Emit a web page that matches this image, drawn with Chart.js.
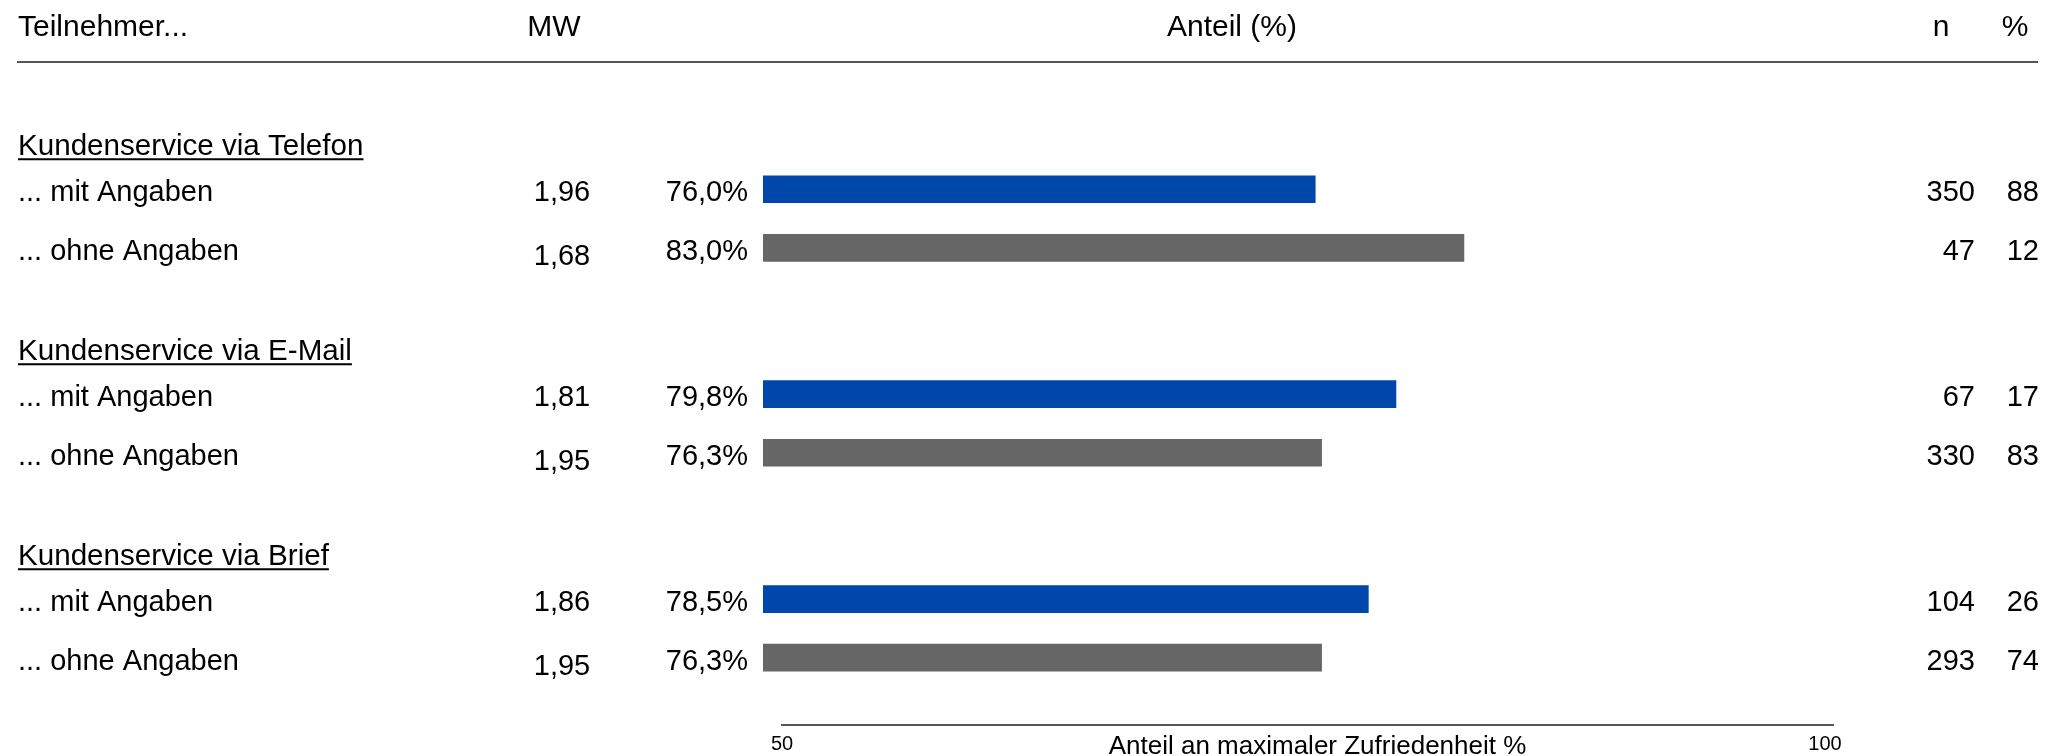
<!DOCTYPE html>
<html>
<head>
<meta charset="utf-8">
<script src="https://cdn.jsdelivr.net/npm/chart.js@4.4.1/dist/chart.umd.min.js"></script>
<style>
    body { margin: 0; background: #fff; }
    #wrap { width: 2062px; height: 756px; position: relative; }
</style>
</head>
<body>
<div id="wrap"><canvas id="chart"></canvas></div>
<script>
// data
var groups = ['Kundenservice via Telefon', 'Kundenservice via E-Mail', 'Kundenservice via Brief'];
var rowLabels = ['... mit Angaben', '... ohne Angaben'];
var mwValues = [1.96, 1.68, 1.81, 1.95, 1.86, 1.95];
var shareValues = [76.0, 83.0, 79.8, 76.3, 78.5, 76.3];
var nValues = [350, 47, 67, 330, 104, 293];
var pctValues = [88, 12, 17, 83, 26, 74];
var axisTicks = [50, 100];
var axisTitle = 'Anteil an maximaler Zufriedenheit %';
var headers = ['Teilnehmer...', 'MW', 'Anteil (%)', 'n', '%'];

var BLUE = '#0047ab';
var GRAY = '#666666';
var FONT = '"Liberation Sans", Arial, sans-serif';

// row slots on the y scale: group g, row j
function rowPos(g, j) {
    return 1 + g * 7 + j * 2;
}

function comma(v, d) {
    return v.toFixed(d).replace('.', ',');
}

// one dataset per row type (mit / ohne)
var datasets = rowLabels.map(function(label, j) {
    return {
        label: label,
        data: groups.map(function(g, gi) {
            return {x: shareValues[gi * 2 + j], y: rowPos(gi, j)};
        }),
        backgroundColor: j == 0 ? BLUE : GRAY,
        barThickness: 27,
        borderWidth: 0
    };
});

var tablePlugin = {
    id: 'table',
    afterDraw: function(chart) {
        var ctx = chart.ctx;
        var xs = chart.scales.x;
        var ys = chart.scales.y;
        ctx.save();
        ctx.fillStyle = '#000';
        ctx.font = '30px ' + FONT;
        ctx.textBaseline = 'alphabetic';

        // header row
        ctx.textAlign = 'left';
        ctx.fillText(headers[0], 18, 36);
        ctx.textAlign = 'center';
        ctx.fillText(headers[1], 554, 36);
        ctx.fillText(headers[2], 1232, 36);
        ctx.fillText(headers[3], 1941, 36);
        ctx.fillText(headers[4], 2015, 36);

        ctx.strokeStyle = '#555';
        ctx.lineWidth = 2;
        ctx.beginPath();
        ctx.moveTo(17, 62);
        ctx.lineTo(2038, 62);
        ctx.stroke();

        for (var g = 0; g < groups.length; g++) {
            // group title, underlined
            var ty = ys.getPixelForValue(rowPos(g, 0) - 1.5) + 10;
            ctx.font = '29.6px ' + FONT;
            ctx.textAlign = 'left';
            ctx.fillText(groups[g], 18, ty);
            var w = ctx.measureText(groups[g]).width;
            ctx.strokeStyle = '#000';
            ctx.lineWidth = 2;
            ctx.beginPath();
            ctx.moveTo(18, ty + 4);
            ctx.lineTo(18 + w, ty + 4);
            ctx.stroke();

            ctx.font = '29px ' + FONT;
            for (var j = 0; j < rowLabels.length; j++) {
                var i = g * 2 + j;
                var y = ys.getPixelForValue(rowPos(g, j)) + 12;
                ctx.textAlign = 'left';
                ctx.fillText(rowLabels[j], 18, y);
                ctx.textAlign = 'center';
                ctx.fillText(comma(mwValues[i], 2), 562, y + (j == 1 ? 5 : 0));
                ctx.textAlign = 'right';
                ctx.fillText(comma(shareValues[i], 1) + '%', xs.getPixelForValue(50) - 15, y);
                ctx.fillText(String(nValues[i]), 1975, y);
                ctx.fillText(String(pctValues[i]), 2039, y);
            }
        }

        // bottom axis
        var ax0 = 781, ax1 = 1834;
        ctx.strokeStyle = '#555';
        ctx.lineWidth = 2;
        ctx.beginPath();
        ctx.moveTo(ax0, 725);
        ctx.lineTo(ax1, 725);
        ctx.stroke();
        ctx.font = '20px ' + FONT;
        ctx.textAlign = 'center';
        ctx.fillText(String(axisTicks[0]), 782, 750);
        ctx.fillText(String(axisTicks[1]), xs.getPixelForValue(axisTicks[1]), 750);
        ctx.font = '26px ' + FONT;
        ctx.fillText(axisTitle, (ax0 + ax1) / 2 + 10, 754);
        ctx.restore();
    }
};

var chart = new Chart(document.getElementById('chart'), {
    type: 'bar',
    data: {datasets: datasets},
    options: {
        indexAxis: 'y',
        grouped: false,
        responsive: true,
        maintainAspectRatio: false,
        animation: false,
        layout: {padding: {left: 763, right: 237, top: 160, bottom: 31}},
        plugins: {legend: {display: false}, tooltip: {enabled: false}},
        scales: {
            x: {type: 'linear', min: axisTicks[0], max: axisTicks[1], display: false},
            y: {type: 'linear', min: 0, max: 19.3, reverse: true, offset: false, display: false}
        }
    },
    plugins: [tablePlugin]
});
</script>
</body>
</html>
